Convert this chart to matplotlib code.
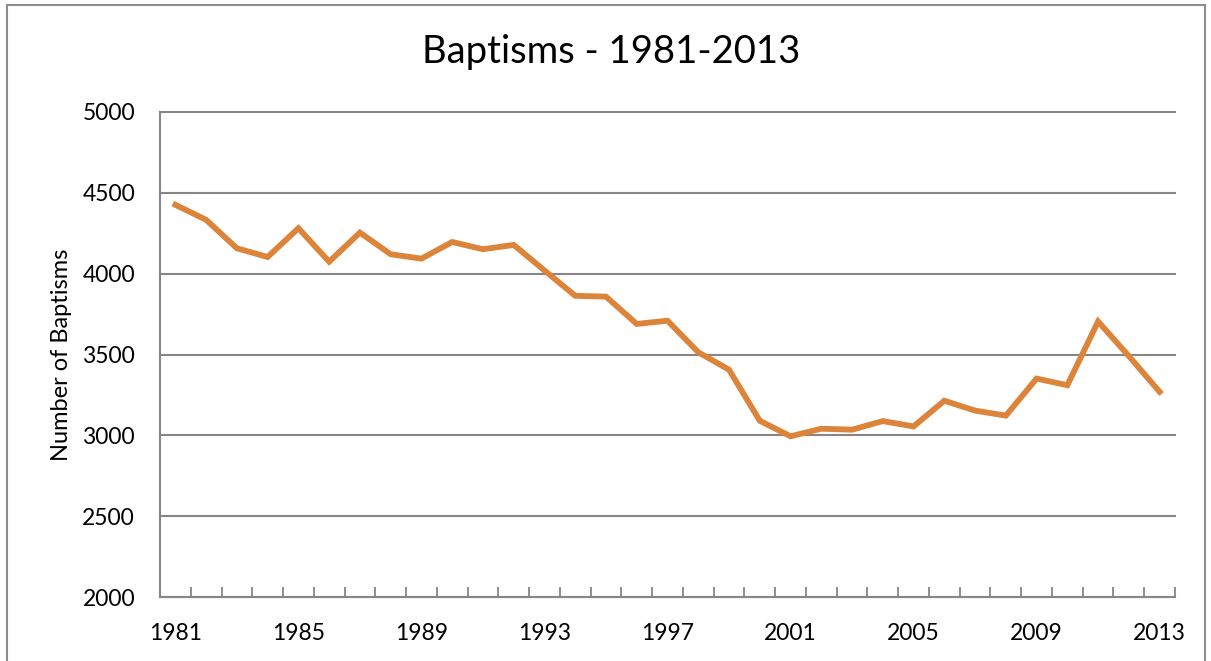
import numpy as np
import matplotlib.pyplot as plt
from matplotlib.patches import Rectangle

# dados
years = list(range(1981, 2014))
baptisms = [4426, 4333, 4157, 4103, 4281, 4074, 4254, 4120, 4093, 4196,
            4151, 4178, 4020, 3863, 3858, 3689, 3709, 3514, 3406, 3090,
            2994, 3041, 3035, 3088, 3055, 3214, 3153, 3122, 3351, 3310,
            3704, 3490, 3269]
yticks = [2000, 2500, 3000, 3500, 4000, 4500, 5000]

plt.rcParams['font.family'] = ['Lato', 'DejaVu Sans']

fig = plt.figure(figsize=(12.11, 6.61), dpi=100)
ax = fig.add_axes([160/1211, 1 - 597/661, 1015/1211, 485/661])

x = np.arange(len(years))
ax.plot(x, baptisms, color='#DD843B', lw=4.2, solid_joinstyle='miter', zorder=3)

ax.set_xlim(-0.5, len(years) - 0.5)
ax.set_ylim(2000, 5000)
ax.set_yticks(yticks)
ax.set_yticklabels([str(v) for v in yticks])
ax.set_xticks(x[::4])
ax.set_xticklabels([str(y) for y in years[::4]])
ax.set_xticks(np.arange(len(years) + 1) - 0.5, minor=True)
ax.tick_params(axis='x', which='major', length=0, pad=19, labelsize=16.5)
ax.tick_params(axis='x', which='minor', direction='in', length=7, width=1.3, color='#868686')
ax.tick_params(axis='y', length=0, pad=18, labelsize=16.5)

ax.grid(axis='y', color='#868686', lw=1.5, zorder=1)
for gl in ax.get_ygridlines():
    gl.set_clip_on(False)
for s in ['top', 'right']:
    ax.spines[s].set_visible(False)
for s in ['left', 'bottom']:
    ax.spines[s].set_color('#868686')
    ax.spines[s].set_linewidth(1.5)

ax.set_ylabel('Number of Baptisms', fontsize=17)
ax.yaxis.set_label_coords(-88/1015, 0.5)
fig.text(611/1211, 1 - 52/661, 'Baptisms - 1981-2013', fontsize=27.5, ha='center', va='center')

# moldura do grafico
fig.patches.append(Rectangle((7/1211, -0.05), 1198/1211, 1.05 - 5/661,
                             transform=fig.transFigure, fill=False,
                             edgecolor='#8c8c8c', lw=1.5))

plt.savefig('out.png', dpi=100)
